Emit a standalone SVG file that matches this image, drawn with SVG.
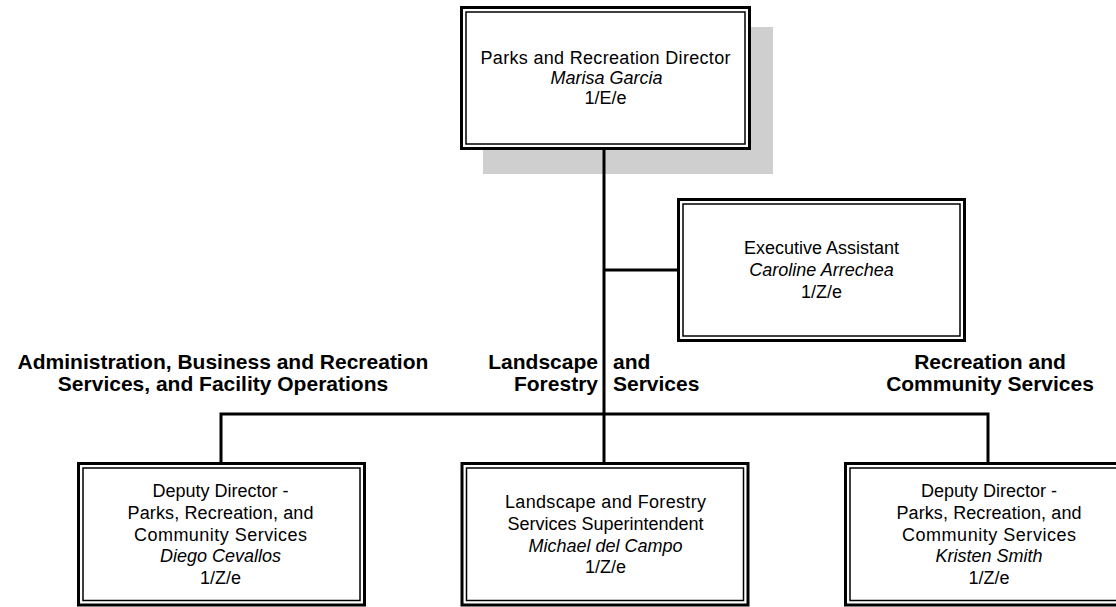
<svg xmlns="http://www.w3.org/2000/svg" width="1116" height="607" viewBox="0 0 1116 607">
<style>
.outer{fill:#fff;stroke:#000;stroke-width:3}
.inner{fill:none;stroke:#000;stroke-width:1.5}
.shadow{fill:#cfcfcf;stroke:none}
.t{font-family:"Liberation Sans",Arial,sans-serif;font-size:18px;fill:#000;text-anchor:middle}
.i{font-style:italic}
.h{font-family:"Liberation Sans",Arial,sans-serif;font-size:21px;font-weight:bold;fill:#000}
.c{text-anchor:middle}
.e{text-anchor:end}
.s{text-anchor:start}
.conn{stroke:#000;stroke-width:3;fill:none}
</style>
<rect class="shadow" x="483" y="27" width="290" height="147"/>
<g id="connectors">
<line class="conn" x1="604" y1="150" x2="604" y2="415"/>
<line class="conn" x1="604" y1="270" x2="678" y2="270"/>
<polyline class="conn" points="221,463 221,414 988,414 988,463"/>
<line class="conn" x1="604" y1="414" x2="604" y2="463"/>
</g>
<g id="labels">
<text class="h c" x="223" y="369">Administration, Business and Recreation</text>
<text class="h c" x="223" y="391">Services, and Facility Operations</text>
<text class="h e" x="598" y="369">Landscape</text>
<text class="h e" x="598" y="391">Forestry</text>
<text class="h s" x="613" y="369">and</text>
<text class="h s" x="613" y="391">Services</text>
<text class="h c" x="990" y="369">Recreation and</text>
<text class="h c" x="990" y="391">Community Services</text>
</g>
<g id="director">
<rect class="outer" x="461.5" y="7.5" width="288" height="141"/>
<rect class="inner" x="466" y="12" width="279" height="132"/>
<text class="t" x="605.5" y="64" textLength="250" lengthAdjust="spacing">Parks and Recreation Director</text>
<text class="t i" x="606.5" y="84">Marisa Garcia</text>
<text class="t" x="605.5" y="104">1/E/e</text>
</g>
<g id="exec-assistant">
<rect class="outer" x="678.5" y="199.5" width="286" height="141"/>
<rect class="inner" x="683" y="204" width="277" height="132"/>
<text class="t" x="821.5" y="254">Executive Assistant</text>
<text class="t i" x="821.5" y="275.7">Caroline Arrechea</text>
<text class="t" x="821.5" y="297.5">1/Z/e</text>
</g>
<g id="deputy-left">
<rect class="outer" x="78.5" y="463.5" width="286" height="141.5"/>
<rect class="inner" x="83" y="468" width="277" height="132.5"/>
<text class="t" x="220.5" y="497">Deputy Director -</text>
<text class="t" x="220.5" y="518.8" textLength="186" lengthAdjust="spacing">Parks, Recreation, and</text>
<text class="t" x="220.5" y="540.5" textLength="173" lengthAdjust="spacing">Community Services</text>
<text class="t i" x="220.5" y="562.2">Diego Cevallos</text>
<text class="t" x="220.5" y="584">1/Z/e</text>
</g>
<g id="landscape-superintendent">
<rect class="outer" x="462" y="463.5" width="286" height="141.5"/>
<rect class="inner" x="466.5" y="468" width="277" height="132.5"/>
<text class="t" x="605.5" y="508.3" textLength="201" lengthAdjust="spacing">Landscape and Forestry</text>
<text class="t" x="605.5" y="530">Services Superintendent</text>
<text class="t i" x="605.5" y="551.7">Michael del Campo</text>
<text class="t" x="605.5" y="573.3">1/Z/e</text>
</g>
<g id="deputy-right">
<rect class="outer" x="845.5" y="463.5" width="286" height="141.5"/>
<rect class="inner" x="850" y="468" width="277" height="132.5"/>
<text class="t" x="989" y="497">Deputy Director -</text>
<text class="t" x="989" y="518.8" textLength="185" lengthAdjust="spacing">Parks, Recreation, and</text>
<text class="t" x="989" y="540.5" textLength="174" lengthAdjust="spacing">Community Services</text>
<text class="t i" x="989" y="562.2">Kristen Smith</text>
<text class="t" x="989" y="584">1/Z/e</text>
</g>
</svg>
